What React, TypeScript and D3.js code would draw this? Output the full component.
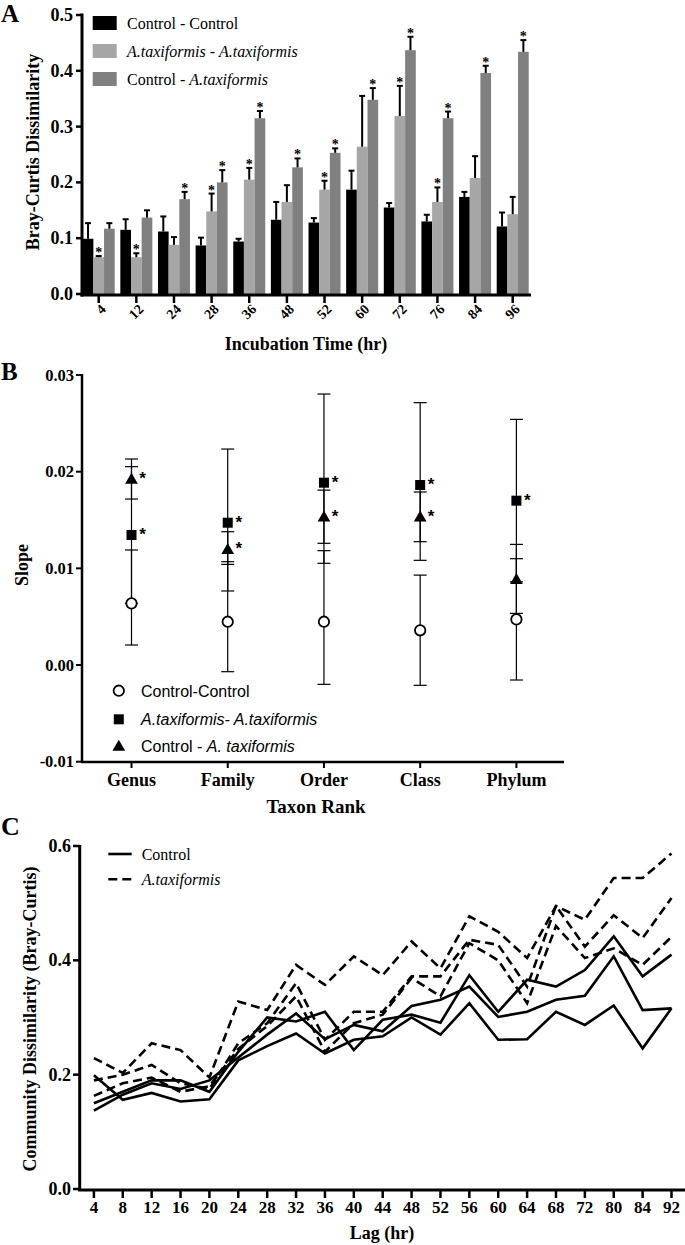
import React from "react";
import * as d3 from "d3";

const SERIF = "'Liberation Serif','Times New Roman',serif";
const SANS = "'Liberation Sans',Arial,sans-serif";

// ---------- Panel A ----------
const incubationTimes = ["4", "12", "24", "28", "36", "48", "52", "60", "72", "76", "84", "96"];
const barSeries = ["cc", "aa", "ca"];
const barColors = ["#000000", "#a6a6a6", "#808080"];
const ccMean = [0.099, 0.115, 0.112, 0.087, 0.094, 0.133, 0.128, 0.187, 0.155, 0.130, 0.174, 0.121];
const ccUpper = [0.127, 0.134, 0.139, 0.101, 0.099, 0.165, 0.136, 0.221, 0.163, 0.142, 0.183, 0.146];
const aaMean = [0.066, 0.066, 0.088, 0.148, 0.205, 0.165, 0.187, 0.264, 0.319, 0.165, 0.208, 0.143];
const aaUpper = [0.068, 0.073, 0.102, 0.180, 0.226, 0.195, 0.203, 0.355, 0.373, 0.191, 0.247, 0.174];
const caMean = [0.117, 0.137, 0.170, 0.200, 0.315, 0.227, 0.253, 0.348, 0.437, 0.315, 0.396, 0.434];
const caUpper = [0.127, 0.150, 0.183, 0.222, 0.328, 0.243, 0.261, 0.369, 0.461, 0.327, 0.409, 0.455];
const aaStar = [true, true, false, true, true, false, true, false, true, true, false, false];
const caStar = [false, false, true, true, true, true, true, true, true, true, true, true];
const yTicksA = [0, 0.1, 0.2, 0.3, 0.4, 0.5];
const legendA = ["Control - Control", "A.taxiformis - A.taxiformis", "Control - A.taxiformis"];

// ---------- Panel B ----------
const ranks = ["Genus", "Family", "Order", "Class", "Phylum"];
const ccSlope = [0.00638, 0.00448, 0.00448, 0.00359, 0.00472];
const ccLo = [0.00207, -0.00069, -0.002, -0.0021, -0.00155];
const ccHi = [0.0119, 0.01069, 0.01183, 0.0093, 0.011];
const aaSlope = [0.01345, 0.01472, 0.01886, 0.01862, 0.017];
const aaLo = [0.00638, 0.00766, 0.01052, 0.01083, 0.0086];
const aaHi = [0.02052, 0.02234, 0.02803, 0.02714, 0.02541];
const caSlope = [0.01924, 0.01197, 0.01534, 0.01534, 0.00886];
const caLo = [0.01717, 0.01041, 0.01259, 0.01276, 0.00534];
const caHi = [0.02131, 0.01379, 0.01809, 0.0179, 0.01248];
const aaSlopeStar = [true, true, true, true, true];
const caSlopeStar = [true, true, true, true, false];
const yTicksB = [-0.01, 0, 0.01, 0.02, 0.03];

// ---------- Panel C ----------
const lags = ["4", "8", "12", "16", "20", "24", "28", "32", "36", "40", "44", "48", "52", "56", "60", "64", "68", "72", "80", "84", "92"];
const control1 = [0.150, 0.170, 0.190, 0.190, 0.170, 0.240, 0.300, 0.293, 0.310, 0.243, 0.296, 0.305, 0.291, 0.374, 0.310, 0.366, 0.354, 0.383, 0.442, 0.372, 0.410];
const control2 = [0.137, 0.165, 0.185, 0.175, 0.190, 0.230, 0.270, 0.307, 0.262, 0.287, 0.276, 0.320, 0.331, 0.354, 0.301, 0.310, 0.331, 0.338, 0.407, 0.313, 0.316];
const control3 = [0.199, 0.156, 0.168, 0.153, 0.157, 0.225, 0.250, 0.272, 0.237, 0.261, 0.267, 0.300, 0.270, 0.325, 0.261, 0.262, 0.310, 0.287, 0.321, 0.246, 0.316];
const taxi1 = [0.229, 0.203, 0.255, 0.243, 0.195, 0.328, 0.313, 0.392, 0.357, 0.407, 0.374, 0.433, 0.386, 0.477, 0.450, 0.404, 0.495, 0.471, 0.544, 0.544, 0.587];
const taxi2 = [0.190, 0.200, 0.217, 0.185, 0.175, 0.255, 0.290, 0.360, 0.261, 0.310, 0.310, 0.372, 0.372, 0.436, 0.427, 0.354, 0.495, 0.424, 0.479, 0.439, 0.509];
const taxi3 = [0.163, 0.185, 0.195, 0.170, 0.180, 0.245, 0.285, 0.337, 0.240, 0.290, 0.305, 0.369, 0.337, 0.430, 0.400, 0.325, 0.460, 0.404, 0.421, 0.392, 0.441];
const yTicksC = [0, 0.2, 0.4, 0.6];

function Star({ x, y, size = 14, family = SERIF }: { x: number; y: number; size?: number; family?: string }) {
  return (
    <text x={x} y={y} fontFamily={family} fontWeight="bold" fontSize={size} textAnchor="middle" fill="#000">*</text>
  );
}

function PanelA() {
  const x = d3.scaleBand<string>().domain(incubationTimes).range([82.7, 528.7]).paddingInner(0.15).paddingOuter(0);
  const xs = d3.scaleBand<string>().domain(barSeries).range([0, x.bandwidth()]);
  const y = d3.scaleLinear().domain([0, 0.5]).range([294, 15]);
  const means = [ccMean, aaMean, caMean];
  const uppers = [ccUpper, aaUpper, caUpper];
  const stars = [incubationTimes.map(() => false), aaStar, caStar];
  return (
    <g>
      <text x={1} y={22} fontFamily={SERIF} fontWeight="bold" fontSize={25}>A</text>
      {incubationTimes.map((t, i) =>
        barSeries.map((s, k) => {
          const bx = (x(t) ?? 0) + (xs(s) ?? 0);
          const bw = xs.bandwidth();
          const cx = bx + bw / 2;
          const top = y(means[k][i]);
          const up = y(uppers[k][i]);
          return (
            <g key={t + s}>
              <rect x={bx} y={top} width={bw} height={y(0) - top} fill={barColors[k]} />
              <line x1={cx} x2={cx} y1={top} y2={up} stroke="#000" strokeWidth={2} />
              <line x1={cx - 3} x2={cx + 3} y1={up} y2={up} stroke="#000" strokeWidth={2} />
              {stars[k][i] && <Star x={cx} y={up + 1} size={14} />}
            </g>
          );
        })
      )}
      <line x1={82} x2={82} y1={13.5} y2={296.5} stroke="#000" strokeWidth={3} />
      <line x1={80.5} x2={531} y1={295} y2={295} stroke="#000" strokeWidth={3} />
      {yTicksA.map((v) => (
        <g key={v}>
          <line x1={76} x2={82} y1={y(v)} y2={y(v)} stroke="#000" strokeWidth={2.5} />
          <text x={73} y={y(v) + 6} textAnchor="end" fontFamily={SERIF} fontWeight="bold" fontSize={18}>{v.toFixed(1)}</text>
        </g>
      ))}
      {incubationTimes.map((t) => {
        const cx = (x(t) ?? 0) + x.bandwidth() / 2;
        return (
          <g key={t}>
            <line x1={cx} x2={cx} y1={296} y2={303} stroke="#000" strokeWidth={2.5} />
            <text transform={`translate(${cx + 8},${310}) rotate(-45)`} textAnchor="end" fontFamily={SERIF} fontWeight="bold" fontSize={14}>{t}</text>
          </g>
        );
      })}
      <text x={306} y={350} textAnchor="middle" fontFamily={SERIF} fontWeight="bold" fontSize={18}>Incubation Time (hr)</text>
      <text transform="translate(39,152) rotate(-90)" textAnchor="middle" fontFamily={SERIF} fontWeight="bold" fontSize={18}>Bray-Curtis Dissimilarity</text>
      {legendA.map((lab, k) => {
        const cy = 23 + k * 28;
        const parts = lab.split(" - ");
        return (
          <g key={lab}>
            <rect x={92.7} y={cy - 7} width={24} height={14} fill={barColors[k]} />
            <text x={127} y={cy + 5.5} fontFamily={SERIF} fontSize={16}>
              <tspan fontStyle={parts[0].startsWith("A.") ? "italic" : "normal"}>{parts[0]}</tspan>
              <tspan> - </tspan>
              <tspan fontStyle={parts[1].startsWith("A.") ? "italic" : "normal"}>{parts[1]}</tspan>
            </text>
          </g>
        );
      })}
    </g>
  );
}

function PanelB() {
  const x = d3.scalePoint<string>().domain(ranks).range([131.5, 516.4]);
  const y = d3.scaleLinear().domain([-0.01, 0.03]).range([761.7, 375]);
  const tri = d3.symbol().type(d3.symbolTriangle).size(70)() ?? "";
  const capW = 6.5;
  const groups = [
    { m: ccSlope, lo: ccLo, hi: ccHi },
    { m: aaSlope, lo: aaLo, hi: aaHi },
    { m: caSlope, lo: caLo, hi: caHi },
  ];
  return (
    <g>
      <text x={1} y={380} fontFamily={SERIF} fontWeight="bold" fontSize={25}>B</text>
      {ranks.map((r, i) => {
        const cx = x(r) ?? 0;
        return (
          <g key={r}>
            {groups.map((g, k) => (
              <g key={k}>
                <line x1={cx} x2={cx} y1={y(g.lo[i])} y2={y(g.hi[i])} stroke="#000" strokeWidth={1.2} />
                <line x1={cx - capW} x2={cx + capW} y1={y(g.lo[i])} y2={y(g.lo[i])} stroke="#000" strokeWidth={1.2} />
                <line x1={cx - capW} x2={cx + capW} y1={y(g.hi[i])} y2={y(g.hi[i])} stroke="#000" strokeWidth={1.2} />
              </g>
            ))}
            <circle cx={cx} cy={y(ccSlope[i])} r={5.2} fill="#fff" stroke="#000" strokeWidth={1.8} />
            <rect x={cx - 5} y={y(aaSlope[i]) - 5} width={10} height={10} fill="#000" />
            <path d={tri} transform={`translate(${cx},${y(caSlope[i]) + 1})`} fill="#000" />
            {aaSlopeStar[i] && <Star x={cx + 11} y={y(aaSlope[i]) + 5} size={17} family={SANS} />}
            {caSlopeStar[i] && <Star x={cx + 11} y={y(caSlope[i]) + 5} size={17} family={SANS} />}
          </g>
        );
      })}
      <line x1={82} x2={82} y1={374} y2={763} stroke="#000" strokeWidth={2.5} />
      <line x1={81} x2={564} y1={762} y2={762} stroke="#000" strokeWidth={2.5} />
      {yTicksB.map((v) => (
        <g key={v}>
          <line x1={76} x2={82} y1={y(v)} y2={y(v)} stroke="#000" strokeWidth={2} />
          <text x={74} y={y(v) + 5.5} textAnchor="end" fontFamily={SERIF} fontWeight="bold" fontSize={16.5}>{v.toFixed(2)}</text>
        </g>
      ))}
      {ranks.map((r) => (
        <g key={r}>
          <line x1={x(r)} x2={x(r)} y1={762} y2={768} stroke="#000" strokeWidth={2} />
          <text x={x(r)} y={786} textAnchor="middle" fontFamily={SERIF} fontWeight="bold" fontSize={18}>{r}</text>
        </g>
      ))}
      <text x={316} y={813} textAnchor="middle" fontFamily={SERIF} fontWeight="bold" fontSize={19}>Taxon Rank</text>
      <text transform="translate(28,565) rotate(-90)" textAnchor="middle" fontFamily={SERIF} fontWeight="bold" fontSize={18}>Slope</text>
      <circle cx={118.8} cy={690.7} r={5.2} fill="#fff" stroke="#000" strokeWidth={1.8} />
      <text x={141} y={696.5} fontFamily={SANS} fontSize={16}>Control-Control</text>
      <rect x={113.8} y={714.3} width={10} height={10} fill="#000" />
      <text x={141} y={725} fontFamily={SANS} fontSize={16}><tspan fontStyle="italic">A.taxiformis- A.taxiformis</tspan></text>
      <path d={tri} transform={`translate(118.8,747)`} fill="#000" />
      <text x={141} y={752} fontFamily={SANS} fontSize={16}>Control - <tspan fontStyle="italic">A. taxiformis</tspan></text>
    </g>
  );
}

function PanelC() {
  const x = d3.scalePoint<string>().domain(lags).range([93.9, 671.5]);
  const y = d3.scaleLinear().domain([0, 0.6]).range([1189, 846]);
  const line = d3.line<number>().x((_, i) => x(lags[i]) ?? 0).y((d) => y(d));
  const solid = [control1, control2, control3];
  const dashed = [taxi1, taxi2, taxi3];
  return (
    <g>
      <text x={1} y={835} fontFamily={SERIF} fontWeight="bold" fontSize={26}>C</text>
      {solid.map((s, k) => (
        <path key={"s" + k} d={line(s) ?? ""} fill="none" stroke="#000" strokeWidth={2.6} strokeLinejoin="miter" />
      ))}
      {dashed.map((s, k) => (
        <path key={"d" + k} d={line(s) ?? ""} fill="none" stroke="#000" strokeWidth={2.6} strokeDasharray="9,5" />
      ))}
      <line x1={79.7} x2={79.7} y1={845} y2={1191} stroke="#000" strokeWidth={3} />
      <line x1={78.2} x2={685} y1={1190} y2={1190} stroke="#000" strokeWidth={3} />
      {yTicksC.map((v) => (
        <g key={v}>
          <line x1={73} x2={79.7} y1={y(v)} y2={y(v)} stroke="#000" strokeWidth={2.5} />
          <text x={71} y={y(v) + 6} textAnchor="end" fontFamily={SERIF} fontWeight="bold" fontSize={18}>{v.toFixed(1)}</text>
        </g>
      ))}
      {lags.map((l) => (
        <g key={l}>
          <line x1={x(l)} x2={x(l)} y1={1191} y2={1198} stroke="#000" strokeWidth={2.5} />
          <text x={x(l)} y={1213} textAnchor="middle" fontFamily={SERIF} fontWeight="bold" fontSize={17}>{l}</text>
        </g>
      ))}
      <text x={382} y={1239} textAnchor="middle" fontFamily={SERIF} fontWeight="bold" fontSize={18}>Lag (hr)</text>
      <text transform="translate(36,1019) rotate(-90)" textAnchor="middle" fontFamily={SERIF} fontWeight="bold" fontSize={18}>Community Dissimilarity (Bray-Curtis)</text>
      <line x1={108.3} x2={131.7} y1={854} y2={854} stroke="#000" strokeWidth={2.6} />
      <text x={141.7} y={859.5} fontFamily={SERIF} fontSize={16}>Control</text>
      <line x1={108.3} x2={131.7} y1={879.3} y2={879.3} stroke="#000" strokeWidth={2.6} strokeDasharray="9,5" />
      <text x={141.7} y={884.8} fontFamily={SERIF} fontSize={16} fontStyle="italic">A.taxiformis</text>
    </g>
  );
}

export default function App() {
  return (
    <svg width={685} height={1245} viewBox="0 0 685 1245" style={{ position: "absolute", left: 0, top: 0, background: "#fff" }}>
      <rect x={0} y={0} width={685} height={1245} fill="#fff" />
      <PanelA />
      <PanelB />
      <PanelC />
    </svg>
  );
}
